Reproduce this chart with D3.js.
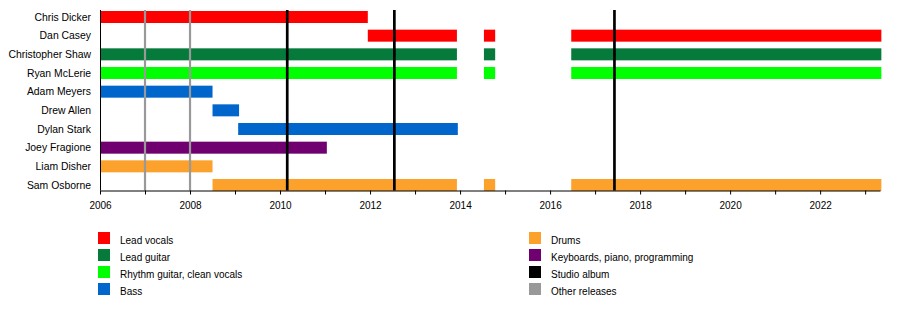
<!DOCTYPE html>
<html lang="en">
<head>
    <meta charset="UTF-8">
    <title>Band members timeline</title>
    <script src="https://d3js.org/d3.v7.min.js"></script>
    <style>
        body {
            margin: 0;
            padding: 0;
            background-color: #fff;
            font-family: "Liberation Sans", Arial, sans-serif;
        }
        .name {
            font-size: 10.4px;
            fill: #000;
        }
        .axis text {
            font-size: 10px;
            fill: #000;
            font-family: "Liberation Sans", Arial, sans-serif;
        }
        .axis path, .axis line {
            stroke: #000;
        }
        .legend text {
            font-size: 10px;
            fill: #000;
        }
    </style>
</head>
<body>
    <div id="chart"></div>

    <script>
        // Members, top to bottom
        const members = [
            "Chris Dicker", "Dan Casey", "Christopher Shaw", "Ryan McLerie",
            "Adam Meyers", "Drew Allen", "Dylan Stark", "Joey Fragione",
            "Liam Disher", "Sam Osborne"
        ];

        // Roles as they appear in the legend
        const roles = [
            "Lead vocals", "Lead guitar", "Rhythm guitar, clean vocals", "Bass",
            "Drums", "Keyboards, piano, programming"
        ];

        // [member, role, from, to]
        const spans = [
            ["Chris Dicker", "Lead vocals", 2006, 2011.95],
            ["Dan Casey", "Lead vocals", 2011.95, 2013.93],
            ["Dan Casey", "Lead vocals", 2014.53, 2014.78],
            ["Dan Casey", "Lead vocals", 2016.47, 2023.36],
            ["Christopher Shaw", "Lead guitar", 2006, 2013.93],
            ["Christopher Shaw", "Lead guitar", 2014.53, 2014.78],
            ["Christopher Shaw", "Lead guitar", 2016.47, 2023.36],
            ["Ryan McLerie", "Rhythm guitar, clean vocals", 2006, 2013.93],
            ["Ryan McLerie", "Rhythm guitar, clean vocals", 2014.53, 2014.78],
            ["Ryan McLerie", "Rhythm guitar, clean vocals", 2016.47, 2023.36],
            ["Adam Meyers", "Bass", 2006, 2008.5],
            ["Drew Allen", "Bass", 2008.5, 2009.09],
            ["Dylan Stark", "Bass", 2009.07, 2013.95],
            ["Joey Fragione", "Keyboards, piano, programming", 2006, 2011.04],
            ["Liam Disher", "Drums", 2006, 2008.5],
            ["Sam Osborne", "Drums", 2008.5, 2013.93],
            ["Sam Osborne", "Drums", 2014.53, 2014.78],
            ["Sam Osborne", "Drums", 2016.47, 2023.36]
        ];

        const studioAlbums = [2010.16, 2012.54, 2017.43];
        const otherReleases = [2007.0, 2008.0];

        const yearTicks = d3.range(2006, 2024);
        const legendLeft = ["Lead vocals", "Lead guitar", "Rhythm guitar, clean vocals", "Bass"];
        const legendRight = ["Drums", "Keyboards, piano, programming", "Studio album", "Other releases"];

        const color = d3.scaleOrdinal()
            .domain([...roles, "Studio album", "Other releases"])
            .range(["#ff0000", "#057a3b", "#00ff00", "#0066cc",
                    "#fba12c", "#700070", "#000000", "#999999"]);

        const width = 900, height = 310;

        const svg = d3.select("#chart").append("svg")
            .attr("width", width)
            .attr("height", height);

        const x = d3.scaleLinear().domain([2006, 2023.33]).range([100, 880]);
        const y = d3.scalePoint().domain(members).range([17, 185]);
        const axisY = 190.5;
        const barH = 12;

        // bars
        svg.append("g")
            .selectAll("rect")
            .data(spans)
            .join("rect")
            .attr("x", d => x(d[2]))
            .attr("y", d => y(d[0]) - barH / 2)
            .attr("width", d => x(d[3]) - x(d[2]))
            .attr("height", barH)
            .attr("fill", d => color(d[1]));

        // release lines
        svg.append("g")
            .selectAll("line")
            .data(otherReleases)
            .join("line")
            .attr("x1", d => x(d)).attr("x2", d => x(d))
            .attr("y1", 10).attr("y2", axisY)
            .attr("stroke", color("Other releases"))
            .attr("stroke-width", 2.2);

        svg.append("g")
            .selectAll("line")
            .data(studioAlbums)
            .join("line")
            .attr("x1", d => x(d)).attr("x2", d => x(d))
            .attr("y1", 10).attr("y2", axisY)
            .attr("stroke", color("Studio album"))
            .attr("stroke-width", 2.7);

        // names
        svg.append("g")
            .selectAll("text")
            .data(members)
            .join("text")
            .attr("class", "name")
            .attr("x", 91)
            .attr("y", d => y(d) + 3.8)
            .attr("text-anchor", "end")
            .text(d => d);

        // left axis line
        svg.append("line")
            .attr("x1", 100.5).attr("x2", 100.5)
            .attr("y1", 10).attr("y2", axisY)
            .attr("stroke", "#000");

        // time axis
        svg.append("g")
            .attr("class", "axis")
            .attr("transform", `translate(0,${axisY})`)
            .call(d3.axisBottom(x)
                .tickValues(yearTicks)
                .tickSize(4)
                .tickSizeOuter(0)
                .tickPadding(7)
                .tickFormat(d => d % 2 === 0 ? d : ""));

        // legend
        function legendColumn(items, x0) {
            const g = svg.append("g").attr("class", "legend");
            const row = g.selectAll("g")
                .data(items)
                .join("g")
                .attr("transform", (d, i) => `translate(${x0},${232 + i * 17})`);
            row.append("rect")
                .attr("width", 12).attr("height", 12)
                .attr("fill", d => color(d));
            row.append("text")
                .attr("x", 22).attr("y", 11.5)
                .text(d => d);
        }
        legendColumn(legendLeft, 98);
        legendColumn(legendRight, 529);
    </script>
</body>
</html>
